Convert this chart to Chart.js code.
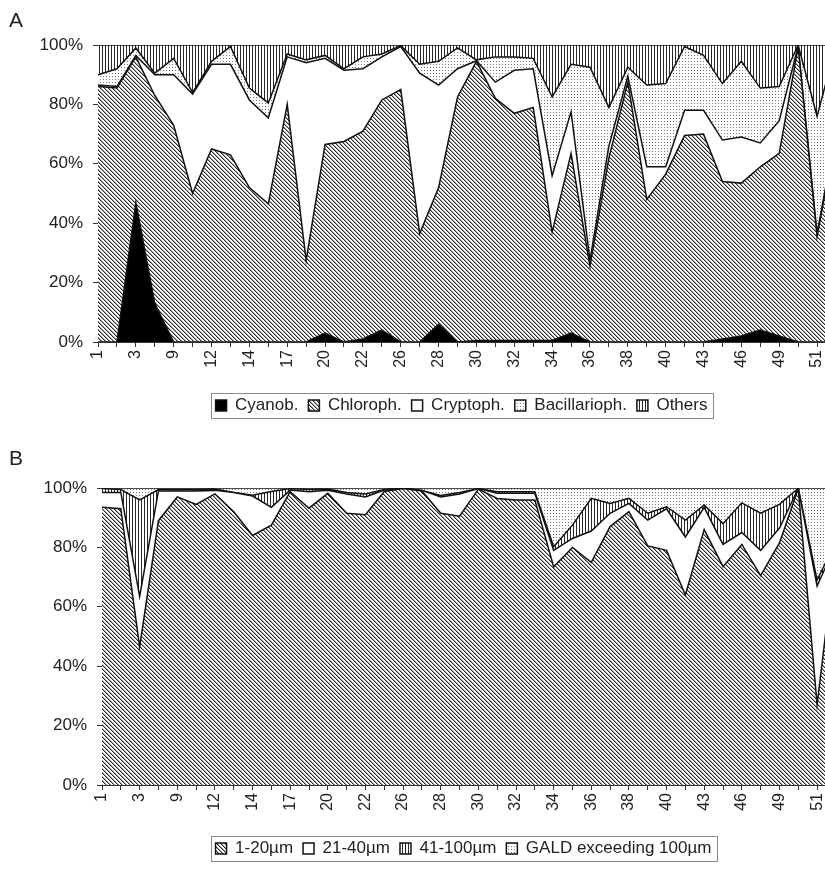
<!DOCTYPE html>
<html><head><meta charset="utf-8">
<script src="https://cdn.jsdelivr.net/npm/chart.js@4.4.1/dist/chart.umd.min.js"></script>
<style>
html,body{margin:0;padding:0;background:#fff;overflow:hidden;width:825px;height:870px;}
.panel{position:absolute;left:0;width:825px;}
#wrapA{top:0;height:430px;}
#wrapB{top:443px;height:427px;}
.lbl{position:absolute;font-family:"Liberation Sans",Arial,sans-serif;font-size:21px;line-height:21px;color:#222;}
canvas{display:block;}
</style></head><body>
<div class="panel" id="wrapA"><canvas id="cA" width="825" height="430"></canvas></div>
<div class="panel" id="wrapB"><canvas id="cB" width="825" height="427"></canvas></div>
<div class="lbl" style="left:9px;top:9px">A</div>
<div class="lbl" style="left:9px;top:447px">B</div>
<script>
// Tick labels shown at every second sample position (odd positions are unlabeled in the source)
const tickLabels = ['1','3','9','12','14','17','20','22','26','28','30','32','34','36','38','40','43','46','49','51'];

// Panel A: taxonomic composition (%)
const cyanob   = [0,0,47,13,0,0,0,0,0,0,0,0,3,0,1,4,0,0,6,0,0.5,0.5,0.5,0.5,0.5,3,0,0,0,0,0,0,0,1,2,4,2,0,0,0];
const chloroph = [86,85.5,49,70,73,50,65,63,52,46.5,80,27.5,63.5,67.5,70,77.5,85,36.5,46,82.5,94,81.5,76.5,78.5,36.5,60.5,25.5,62,87.5,48,56.5,69.5,70,53,51.5,55,61.5,99.4,35.5,70];
const cryptoph = [0.5,0.5,0.5,7,17,33.5,28.5,30.5,29.5,29,16,66.5,29,24,21,14.5,14.5,54,34.5,9.5,0.2,5.5,14.5,13,19,14,2,4,2,11,2.5,8.5,8,14,15.5,8,11,0.2,1,1];
const bacill   = [3.5,6,2.5,0.5,5.5,0.5,1,6,4,5,1,1,1,0.5,4,1,0.3,3,8,7,0.3,8.5,4.5,3.5,26.5,16,65,13,3,27.5,28,21.5,18.5,19,25.5,18.5,11.5,0.4,39.5,29];
const others   = [10,8,1,9.5,4.5,16,5.5,0.5,14.5,19.5,3,5,3.5,8,4,3,0.2,6.5,5.5,1,5,4,4,4.5,17.5,6.5,7.5,21,7.5,13.5,13,0.5,3.5,13,5.5,14.5,14,0,24,0];

// Panel B: size classes (%)
const size1_20   = [93.5,93,46.5,89,97,94.5,98,92,84,87.5,98.8,93.2,98.2,91.5,91,98.8,99.8,99,91.5,90.5,99.6,96.5,96,96,73.5,80,75,87,92,80.5,79,64,86,73.5,81,70.5,81.5,99.8,27,80];
const size21_40  = [5,5.5,17,10,2,4.5,1.2,6.5,13.3,6,0.5,5.5,1,6.5,6,0.5,0.1,0.2,5.5,7.5,0.2,1.7,2.2,2.2,5.5,3,10.5,4.5,2.8,8.7,14,19.5,7.5,7.5,4,8.5,5,0.1,40,1];
const size41_100 = [1.3,1,32.5,0.5,0.5,0.5,0.5,0,0.3,5.3,0.5,0.8,0.5,0.5,1,0.2,0,0,0.5,0.5,0,0.5,0.5,0.5,1.2,4.5,11,3.3,1.7,2.3,0.7,5.7,0.8,7,10,12.5,8,0,2,1];
const gald100    = [0.2,0.5,4,0.5,0.5,0.5,0.3,1.5,2.4,1.2,0.2,0.5,0.3,1.5,2,0.5,0.1,0.8,2.5,1.5,0.2,1.3,1.3,1.3,19.8,12.5,3.5,5.2,3.5,8.5,6.3,10.8,5.7,12,5,8.5,5.5,0.1,31,18];

const FONT = '"Liberation Sans", Arial, sans-serif';

function makeTile(w, h, fn) {
  const c = document.createElement('canvas'); c.width = w; c.height = h;
  const x = c.getContext('2d'); const img = x.createImageData(w, h);
  for (let j = 0; j < h; j++) for (let i = 0; i < w; i++) {
    const v = fn(i, j); const k = (j * w + i) * 4;
    img.data[k] = img.data[k+1] = img.data[k+2] = v; img.data[k+3] = 255;
  }
  x.putImageData(img, 0, 0);
  return c;
}
function patterns(ctx) {
  return {
    hatch: ctx.createPattern(makeTile(4, 4, (i, j) => { const d = ((i - j) % 4 + 4) % 4; return d === 0 ? 45 : (d === 1 ? 160 : 255); }), 'repeat'),
    dots: ctx.createPattern(makeTile(3, 3, (i, j) => (i === 1 && j === 1) ? 120 : 255), 'repeat'),
    vlines: ctx.createPattern(makeTile(3, 1, (i) => i === 0 ? 40 : 255), 'repeat')
  };
}

const legendFrame = {
  id: 'legendFrame',
  afterDraw(chart) {
    const lg = chart.legend; if (!lg || !lg.legendHitBoxes || !lg.legendHitBoxes.length) return;
    let l = Infinity, r = -Infinity, t = Infinity, b = -Infinity;
    lg.legendHitBoxes.forEach(h => { l = Math.min(l, h.left); r = Math.max(r, h.left + h.width); t = Math.min(t, h.top); b = Math.max(b, h.top + h.height); });
    const ctx = chart.ctx; ctx.save(); ctx.strokeStyle = '#8a8a8a'; ctx.lineWidth = 1;
    ctx.strokeRect(Math.round(l - 5) + 0.5, Math.round(t - 4) + 0.5, Math.round(r - l + 10), Math.round(b - t + 8));
    ctx.restore();
  }
};

function build(canvasId, yWidth, series, padBottom) {
  const canvas = document.getElementById(canvasId);
  const ctx = canvas.getContext('2d');
  const p = patterns(ctx);
  const fills = { black: '#000', hatch: p.hatch, white: '#fff', dots: p.dots, vlines: p.vlines };
  const datasets = series.map((s, k) => ({
    label: s.label,
    data: s.values.map((v, i) => ({ x: i, y: v })),
    backgroundColor: fills[s.fill],
    borderColor: '#111',
    borderWidth: 1.5,
    pointRadius: 0,
    tension: 0,
    fill: k === 0 ? 'origin' : '-1'
  }));
  return new Chart(ctx, {
    type: 'line',
    data: { datasets },
    plugins: [legendFrame],
    options: {
      responsive: false, animation: false, devicePixelRatio: 1,
      layout: { padding: { top: 45, left: 0, right: 0, bottom: padBottom } },
      plugins: {
        tooltip: { enabled: false },
        legend: {
          position: 'bottom', fullSize: false,
          labels: { boxWidth: 11, boxHeight: 11, padding: 10, color: '#222', font: { family: FONT, size: 17 } }
        }
      },
      scales: {
        x: {
          type: 'linear', min: 0, max: 38.42, bounds: 'data',
          border: { display: true, color: '#333', width: 1 },
          grid: { display: true, drawOnChartArea: false, drawTicks: true, tickLength: 5, color: '#333' },
          ticks: {
            stepSize: 1, autoSkip: false, includeBounds: false, minRotation: 90, maxRotation: 90, padding: 3,
            color: '#222', font: { family: FONT, size: 16 },
            callback: (v) => (Number.isInteger(v) && v % 2 === 0 && tickLabels[v / 2] !== undefined) ? tickLabels[v / 2] : ''
          },
          afterFit: (s) => { s.height = 45; s.paddingRight = 0; s.paddingLeft = 0; }
        },
        y: {
          stacked: true, min: 0, max: 100,
          border: { display: true, color: '#333', width: 1 },
          grid: { display: true, drawOnChartArea: false, drawTicks: true, tickLength: 5, color: '#333' },
          ticks: { stepSize: 20, padding: 10, color: '#222', font: { family: FONT, size: 17 }, callback: (v) => v + '%' },
          afterFit: (s) => { s.width = yWidth; }
        }
      }
    }
  });
}

build('cA', 98, [
  { label: 'Cyanob.', values: cyanob, fill: 'black' },
  { label: 'Chloroph.', values: chloroph, fill: 'hatch' },
  { label: 'Cryptoph.', values: cryptoph, fill: 'white' },
  { label: 'Bacillarioph.', values: bacill, fill: 'dots' },
  { label: 'Others', values: others, fill: 'vlines' }
], 430 - 342 - 45 - 37);

build('cB', 102, [
  { label: '1-20µm', values: size1_20, fill: 'hatch' },
  { label: '21-40µm', values: size21_40, fill: 'white' },
  { label: '41-100µm', values: size41_100, fill: 'vlines' },
  { label: 'GALD exceeding 100µm', values: gald100, fill: 'dots' }
], 427 - 342 - 45 - 37);
</script>
</body></html>
